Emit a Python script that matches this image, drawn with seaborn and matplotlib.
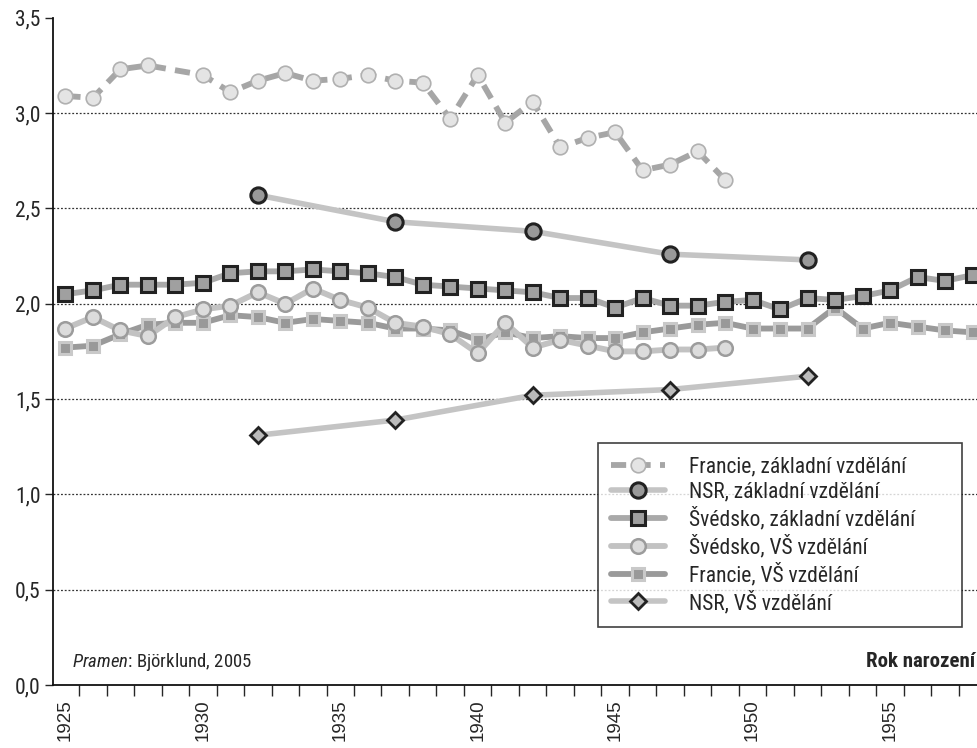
import numpy as np, pandas as pd
import matplotlib; matplotlib.use("Agg")
import matplotlib.pyplot as plt
from matplotlib.ticker import FixedLocator, FuncFormatter
import seaborn as sns

sns.set_style("white")
plt.rcParams["font.family"] = ["Roboto Condensed", "Roboto", "DejaVu Sans"]
plt.rcParams["mathtext.fontset"] = "custom"
plt.rcParams["mathtext.it"] = "Roboto Condensed:italic"
plt.rcParams["mathtext.rm"] = "Roboto Condensed"

# ---------- data ----------
fr_zakl_years = [1925, 1926, 1927, 1928] + list(range(1930, 1950))
fr_zakl = [3.09, 3.08, 3.23, 3.25, 3.20, 3.11, 3.17, 3.21, 3.17, 3.18, 3.20, 3.17,
           3.16, 2.97, 3.20, 2.95, 3.06, 2.82, 2.87, 2.90, 2.70, 2.73, 2.80, 2.65]

nsr_years = [1932, 1937, 1942, 1947, 1952]
nsr_zakl = [2.57, 2.43, 2.38, 2.26, 2.23]
nsr_vs = [1.31, 1.39, 1.52, 1.55, 1.62]

sw_zakl_years = list(range(1925, 1959))
sw_zakl = [2.05, 2.07, 2.10, 2.10, 2.10, 2.11, 2.16, 2.17, 2.17, 2.18,
           2.17, 2.16, 2.14, 2.10, 2.09, 2.08, 2.07, 2.06, 2.03, 2.03,
           1.98, 2.03, 1.99, 1.99, 2.01, 2.02, 1.97, 2.03, 2.02, 2.04,
           2.07, 2.14, 2.12, 2.15]

sw_vs_years = list(range(1925, 1950))
sw_vs = [1.87, 1.93, 1.86, 1.83, 1.93, 1.97, 1.99, 2.06, 2.00, 2.08,
         2.02, 1.98, 1.90, 1.88, 1.84, 1.74, 1.90, 1.77, 1.81, 1.78,
         1.75, 1.75, 1.76, 1.76, 1.77]

fr_vs_years = list(range(1925, 1959))
fr_vs = [1.77, 1.78, 1.84, 1.89, 1.90, 1.90, 1.94, 1.93, 1.90, 1.92,
         1.91, 1.90, 1.87, 1.87, 1.86, 1.81, 1.85, 1.82, 1.83, 1.82,
         1.82, 1.85, 1.87, 1.89, 1.90, 1.87, 1.87, 1.87, 1.98, 1.87,
         1.90, 1.88, 1.86, 1.85]

labels = ["Francie, základní vzdělání", "NSR, základní vzdělání",
          "Švédsko, základní vzdělání", "Švédsko, VŠ vzdělání",
          "Francie, VŠ vzdělání", "NSR, VŠ vzdělání"]

fig = plt.figure(figsize=(9.78, 7.48), dpi=100)
ax = fig.add_axes([0.0542, 0.0842, 0.9458, 0.892])

def draw(x, y, label, z, **kw):
    d = pd.DataFrame({"rok": x, "val": y})
    sns.lineplot(data=d, x="rok", y="val", ax=ax, label=label, zorder=z, **kw)

draw(fr_vs_years, fr_vs, labels[4], 3, color="#9a9a9a", lw=4.2, marker="s", ms=9,
     mfc="#999999", mec="#c9c9c9", mew=2.2)
draw(sw_vs_years, sw_vs, labels[3], 4, color="#c2c2c2", lw=4.2, marker="o", ms=10.5,
     mfc="#dcdcdc", mec="#9c9c9c", mew=1.8)
draw(sw_zakl_years, sw_zakl, labels[2], 5, color="#a9a9a9", lw=4.2, marker="s", ms=10,
     mfc="#a0a0a0", mec="#222222", mew=2.2)
draw(nsr_years, nsr_zakl, labels[1], 5, color="#c4c4c4", lw=4.0, marker="o", ms=11,
     mfc="#999999", mec="#222222", mew=2.2)
draw(nsr_years, nsr_vs, labels[5], 5, color="#c4c4c4", lw=4.0, marker="D", ms=8,
     mfc="#bbbbbb", mec="#222222", mew=2.0)
draw(fr_zakl_years, fr_zakl, labels[0], 6, color="#a6a6a6", lw=4.2, ls=(0, (2.6, 1.6)),
     marker="o", ms=10.5, mfc="#e4e4e4", mec="#b0b0b0", mew=1.2)

ax.set_xlim(1924.55, 1958.2)
ax.set_ylim(0, 3.5)
ax.set_xlabel(""); ax.set_ylabel("")

# y axis
ax.set_yticks(np.arange(0, 3.51, 0.5))
ax.yaxis.set_major_formatter(FuncFormatter(lambda v, p: f"{v:.1f}".replace(".", ",")))
ax.tick_params(axis="y", direction="out", length=6, width=1, labelsize=15.5, pad=3, left=True)
for g in np.arange(0.5, 3.01, 0.5):
    ax.axhline(g, color="#333333", lw=0.9, ls=(0, (1.5, 1.5)), zorder=1)

# x axis: labels at categories, ticks between them
ax.set_xticks(range(1925, 1960, 5))
ax.set_xticklabels([str(y) for y in range(1925, 1960, 5)], rotation=90,
                   family="Liberation Sans", fontsize=13.5)
ax.tick_params(axis="x", which="major", length=0, pad=10)
ax.xaxis.set_minor_locator(FixedLocator(np.arange(1925.5, 1958, 1.0)))
ax.tick_params(axis="x", which="minor", direction="out", length=8, width=1, bottom=True)

for s in ["top", "right"]:
    ax.spines[s].set_visible(False)
for s in ["left", "bottom"]:
    ax.spines[s].set_color("#111111"); ax.spines[s].set_linewidth(1.3)

ax.text(0.02, 0.035, "$\\mathit{Pramen}$: Björklund, 2005", transform=ax.transAxes,
        fontsize=13.5, ha="left", va="center")
ax.text(0.997, 0.035, "Rok narození", transform=ax.transAxes, fontsize=15,
        weight="bold", ha="right", va="center")

h, l = ax.get_legend_handles_labels()
hm = dict(zip(l, h))
leg = ax.legend([hm[k] for k in labels], labels, loc="upper left",
                bbox_to_anchor=(0.589, 0.263, 0.394, 0.1), mode="expand",
                frameon=True, fancybox=False,
                edgecolor="#111111", fontsize=15.5, handlelength=2.5,
                labelspacing=0.2, borderpad=0.62, handletextpad=1.1,
                borderaxespad=0)
leg.get_frame().set_linewidth(1.2)
leg.set_zorder(10)

fig.savefig("out.png", dpi=100, facecolor="white")
